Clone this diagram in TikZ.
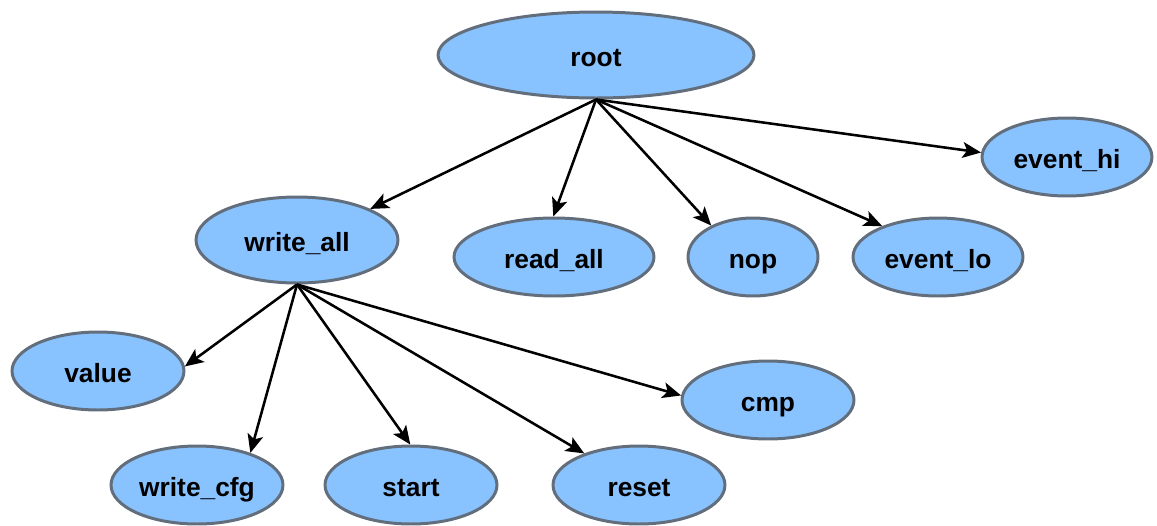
\documentclass[tikz,border=0pt]{standalone}
\usepackage{fontspec}
\setmainfont{Liberation Sans}
\usetikzlibrary{shapes.geometric,arrows.meta}
\definecolor{nodefill}{RGB}{136,194,255}
\definecolor{nodeline}{RGB}{98,110,124}
\tikzset{
  st/.style={ellipse, draw=nodeline, fill=nodefill, line width=1.7pt, inner sep=0pt,
    text height=12.6pt, text depth=0pt,
    font=\fontsize{15}{17}\selectfont\bfseries},
  big/.style={st, minimum width=#1, minimum height=1.72cm},
  small/.style={st, minimum width=#1, minimum height=1.56cm},
  edge/.style={draw=black, line width=1.45pt, -{Stealth[length=10.5pt,width=9pt,inset=2.5pt]}}
}
\begin{document}
\begin{tikzpicture}[x=0.02cm, y=-0.02cm]
\useasboundingbox (0,0) rectangle (1157,525);
\node[big=6.32cm]   (root)     at (596,55)  {root};
\node[big=4.04cm]   (writeall) at (297,240) {write\_all};
\node[small=4.0cm]  (readall)  at (554,257) {read\_all};
\node[small=2.6cm]  (nop)      at (753,257) {nop};
\node[small=3.4cm]  (eventlo)  at (938,257) {event\_lo};
\node[small=3.4cm]  (eventhi)  at (1067,157) {event\_hi};
\node[small=3.44cm] (value)    at (98,371)  {value};
\node[small=3.44cm] (cmp)      at (768,400) {cmp};
\node[small=3.44cm] (writecfg) at (197,485) {write\_cfg};
\node[small=3.44cm] (start)    at (411,485) {start};
\node[small=3.44cm] (reset)    at (639,485) {reset};

\draw[edge] (root.south) -- (writeall.23.7);
\draw[edge] (root.south) -- (readall.91);
\draw[edge] (root.south) -- (nop.143.9);
\draw[edge] (root.south) -- (eventlo.151.6);
\draw[edge] (root.south) -- (eventhi.177.4);

\draw[edge] (writeall.south) -- (value.3.4);
\draw[edge] (writeall.south) -- (writecfg.31.9);
\draw[edge] (writeall.south) -- (start.91);
\draw[edge] (writeall.south) -- (reset.150);
\draw[edge] (writeall.south) -- (cmp.177.4);
\end{tikzpicture}
\end{document}
